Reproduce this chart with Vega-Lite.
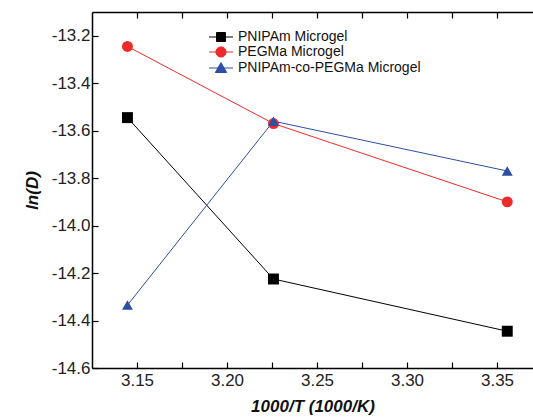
{
  "$schema": "https://vega.github.io/schema/vega-lite/v6.json",
  "width": 441,
  "height": 356,
  "autosize": {"type": "none"},
  "padding": {"left": 92, "top": 12, "right": 0, "bottom": 52},
  "config": {
    "font": "Liberation Sans",
    "view": {"stroke": null},
    "axis": {
      "domainColor": "#000000",
      "domainWidth": 1.5,
      "tickColor": "#000000",
      "tickWidth": 1.2,
      "tickSize": -6,
      "grid": false,
      "labelFont": "Liberation Sans",
      "labelFontSize": 17,
      "labelColor": "#222222",
      "titleFont": "Liberation Sans",
      "titleFontSize": 17,
      "titleFontWeight": "bold",
      "titleFontStyle": "italic",
      "titleColor": "#111111"
    },
    "legend": {
      "labelFont": "Liberation Sans",
      "labelFontSize": 14,
      "labelColor": "#111111",
      "labelLimit": 0,
      "labelOffset": 10,
      "symbolSize": 144,
      "symbolStrokeWidth": 1,
      "rowPadding": 0,
      "padding": 0
    }
  },
  "data": {
    "values": [
      {"x": 3.1447, "y": -13.545, "series": "PNIPAm Microgel"},
      {"x": 3.2258, "y": -14.225, "series": "PNIPAm Microgel"},
      {"x": 3.3557, "y": -14.445, "series": "PNIPAm Microgel"},
      {"x": 3.1447, "y": -13.245, "series": "PEGMa Microgel"},
      {"x": 3.2258, "y": -13.570, "series": "PEGMa Microgel"},
      {"x": 3.3557, "y": -13.900, "series": "PEGMa Microgel"},
      {"x": 3.1447, "y": -14.335, "series": "PNIPAm-co-PEGMa Microgel"},
      {"x": 3.2258, "y": -13.560, "series": "PNIPAm-co-PEGMa Microgel"},
      {"x": 3.3557, "y": -13.770, "series": "PNIPAm-co-PEGMa Microgel"}
    ]
  },
  "resolve": {
    "axis": {"x": "independent"},
    "scale": {"color": "independent", "shape": "independent", "stroke": "independent"}
  },
  "layer": [
    {
      "mark": {"type": "line", "strokeWidth": 1},
      "encoding": {
        "x": {
          "field": "x", "type": "quantitative",
          "scale": {"domain": [3.125, 3.37], "nice": false, "zero": false},
          "axis": {
            "orient": "bottom",
            "title": "1000/T (1000/K)",
            "values": [3.15, 3.175, 3.2, 3.225, 3.25, 3.275, 3.3, 3.325, 3.35],
            "labelExpr": "round(datum.value*1000) % 50 == 0 ? format(datum.value, '.2f') : ''",
            "labelPadding": 10,
            "titlePadding": 10
          }
        },
        "y": {
          "field": "y", "type": "quantitative",
          "scale": {"domain": [-14.6, -13.1], "nice": false, "zero": false},
          "axis": {
            "title": "ln(D)",
            "values": [-14.6, -14.5, -14.4, -14.3, -14.2, -14.1, -14.0, -13.9, -13.8, -13.7, -13.6, -13.5, -13.4, -13.3, -13.2],
            "labelExpr": "abs(round(datum.value*10)) % 2 == 0 ? replace(format(datum.value, '.1f'), '\u2212', '-') : ''",
            "labelPadding": 8,
            "titlePadding": 10
          }
        },
        "color": {
          "field": "series", "type": "nominal",
          "scale": {
            "domain": ["PNIPAm Microgel", "PEGMa Microgel", "PNIPAm-co-PEGMa Microgel"],
            "range": ["#000000", "#ee2b2b", "#2c4ea3"]
          },
          "legend": null
        }
      }
    },
    {
      "mark": {"type": "point", "filled": true, "opacity": 1},
      "encoding": {
        "x": {
          "field": "x", "type": "quantitative",
          "axis": {
            "orient": "top",
            "title": null,
            "labels": false,
            "values": [3.15, 3.175, 3.2, 3.225, 3.25, 3.275, 3.3, 3.325, 3.35]
          }
        },
        "y": {"field": "y", "type": "quantitative"},
        "color": {
          "field": "series", "type": "nominal",
          "scale": {
            "domain": ["PNIPAm Microgel", "PEGMa Microgel", "PNIPAm-co-PEGMa Microgel"],
            "range": ["#000000", "#ee2b2b", "#2c4ea3"]
          },
          "legend": null
        },
        "shape": {
          "field": "series", "type": "nominal",
          "scale": {
            "domain": ["PNIPAm Microgel", "PEGMa Microgel", "PNIPAm-co-PEGMa Microgel"],
            "range": ["square", "circle", "triangle-up"]
          },
          "legend": null
        },
        "size": {"value": 120}
      }
    },
    {
      "transform": [{"filter": "false"}],
      "mark": {"type": "point", "filled": true, "opacity": 1, "strokeWidth": 1},
      "encoding": {
        "x": {"field": "x", "type": "quantitative", "axis": null},
        "y": {"field": "y", "type": "quantitative"},
        "color": {
          "field": "series", "type": "nominal",
          "scale": {
            "domain": ["PNIPAm Microgel", "PEGMa Microgel", "PNIPAm-co-PEGMa Microgel"],
            "range": ["#000000", "#ee2b2b", "#2c4ea3"]
          },
          "legend": {"title": null, "orient": "none", "legendX": 122, "legendY": 18}
        },
        "stroke": {
          "field": "series", "type": "nominal",
          "scale": {
            "domain": ["PNIPAm Microgel", "PEGMa Microgel", "PNIPAm-co-PEGMa Microgel"],
            "range": ["#000000", "#ee2b2b", "#2c4ea3"]
          },
          "legend": {"title": null, "orient": "none", "legendX": 122, "legendY": 18}
        },
        "shape": {
          "field": "series", "type": "nominal",
          "scale": {
            "domain": ["PNIPAm Microgel", "PEGMa Microgel", "PNIPAm-co-PEGMa Microgel"],
            "range": [
              "M-2,0H2M-0.75,-0.75H0.75V0.75H-0.75Z",
              "M-2,0H2M-0.85,0A0.85,0.85 0 1,0 0.85,0A0.85,0.85 0 1,0 -0.85,0Z",
              "M-2,0H2M-0.95,0.75L0,-0.9L0.95,0.75Z"
            ]
          },
          "legend": {"title": null, "orient": "none", "legendX": 122, "legendY": 18}
        }
      }
    }
  ]
}
